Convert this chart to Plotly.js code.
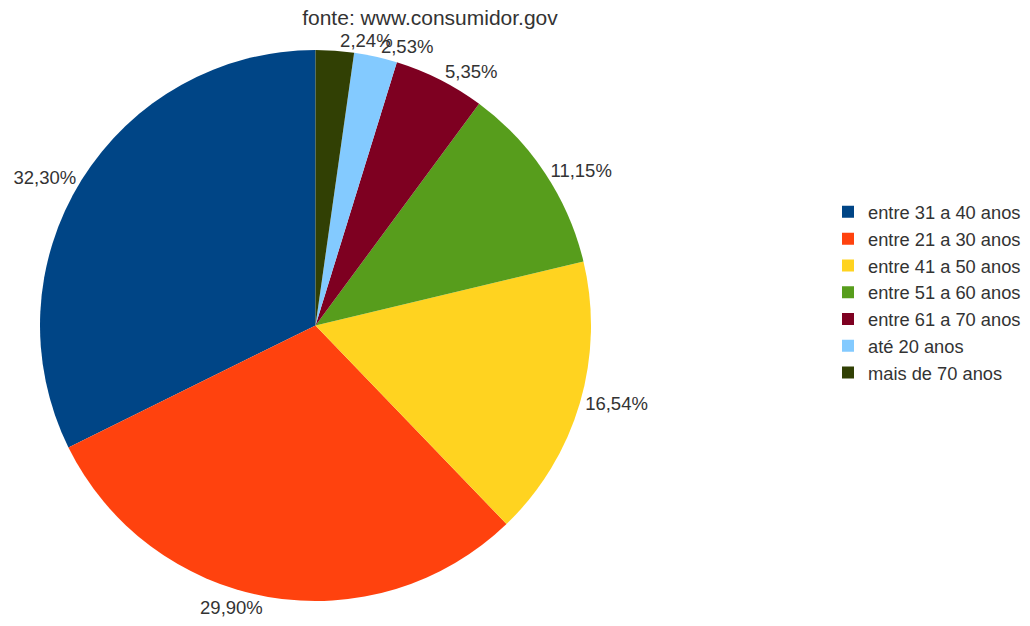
<!DOCTYPE html>
<html>
<head>
<meta charset="utf-8">
<script src="https://cdn.plot.ly/plotly-3.0.1.min.js"></script>
<style>html,body{margin:0;padding:0;background:#fff;}#chart{width:1030px;height:626px;}</style>
</head>
<body>
<div id="chart"></div>
<script>
const categories = ["entre 31 a 40 anos", "entre 21 a 30 anos", "entre 41 a 50 anos", "entre 51 a 60 anos", "entre 61 a 70 anos", "até 20 anos", "mais de 70 anos"];
const values = [32.30, 29.90, 16.54, 11.15, 5.35, 2.53, 2.24];
const colors = ["#004586", "#ff420e", "#ffd320", "#579d1c", "#7e0021", "#83caff", "#314004"];
const labelsText = values.map(v => v.toFixed(2).replace('.', ',') + '%');

const W = 1030, H = 626;
const cx = 315.5, half = 275.5;
const total = values.reduce((a, b) => a + b, 0);
// first slice must start at 12 o'clock and run counterclockwise
const startRotation = -values[0] / total * 360;
const lastIdx = values.length - 1;
const labelFont = {family: 'Liberation Sans, Arial, sans-serif', size: 18.5, color: '#333333'};
const dom = {x: [(cx - half) / W, (cx + half) / W], y: [0, 1]};

// main pie: all labels except the last (drawn by overlay so it is not pushed away)
const mainTrace = {
  type: 'pie',
  labels: categories,
  values: values,
  text: labelsText,
  textinfo: 'text',
  textposition: values.map((v, i) => i === lastIdx ? 'none' : 'outside'),
  sort: false,
  direction: 'counterclockwise',
  rotation: startRotation,
  marker: {colors: colors, line: {width: 0}},
  outsidetextfont: labelFont,
  hoverinfo: 'label+text',
  domain: dom,
  automargin: false
};

// transparent overlay pie carrying only the last label
const overlayTrace = {
  type: 'pie',
  labels: categories,
  values: values,
  text: labelsText,
  textinfo: 'text',
  textposition: values.map((v, i) => i === lastIdx ? 'outside' : 'none'),
  sort: false,
  direction: 'counterclockwise',
  rotation: startRotation,
  marker: {colors: values.map(() => 'rgba(0,0,0,0)'), line: {width: 0}},
  outsidetextfont: labelFont,
  hoverinfo: 'skip',
  showlegend: false,
  domain: dom,
  automargin: false
};

const layout = {
  width: W, height: H,
  margin: {l: 0, r: 0, t: 49.5, b: 24.5},
  paper_bgcolor: '#ffffff',
  font: {family: 'Liberation Sans, Arial, sans-serif', color: '#333333'},
  title: {
    text: 'fonte: www.consumidor.gov',
    font: {family: 'Liberation Sans, Arial, sans-serif', size: 21, color: '#333333'},
    x: 430 / W, xanchor: 'center', xref: 'paper',
    y: 1 - 18 / H, yanchor: 'middle', yref: 'container'
  },
  showlegend: true,
  legend: {
    x: 1 - 4 / W, xanchor: 'right', y: 0.56, yanchor: 'middle',
    font: {family: 'Liberation Sans, Arial, sans-serif', size: 18.3, color: '#333333'},
    itemwidth: 30,
    tracegroupgap: 0
  }
};

Plotly.newPlot('chart', [mainTrace, overlayTrace], layout, {displayModeBar: false});
</script>
</body>
</html>
